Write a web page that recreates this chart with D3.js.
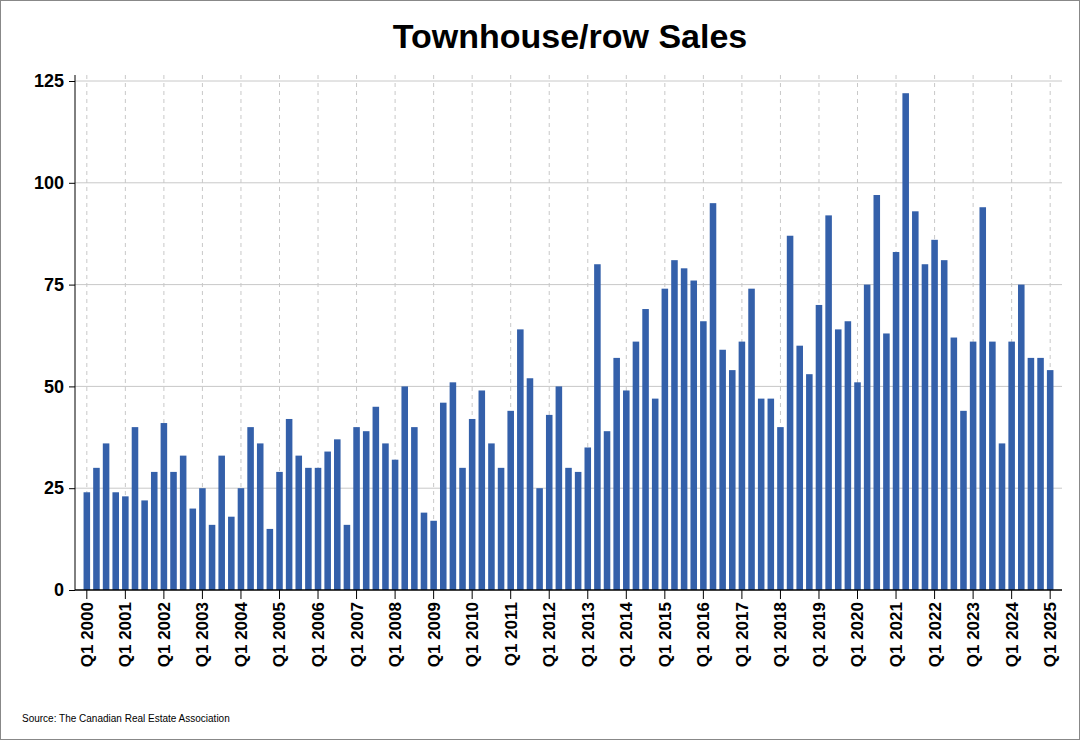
<!DOCTYPE html><html><head><meta charset="utf-8"><script src="https://d3js.org/d3.v7.min.js"></script>
<style>body{margin:0;background:#fff}text{font-family:Arial,"Liberation Sans",sans-serif}</style></head><body><svg id="c" width="1080" height="740"></svg><script>
const years=d3.range(2000,2026);
const quarters=["Q1","Q2","Q3","Q4"];
const values=[24,30,36,24, 23,40,22,29, 41,29,33,20, 25,16,33,18, 25,40,36,15, 29,42,33,30, 30,34,37,16, 40,39,45,36, 32,50,40,19, 17,46,51,30, 42,49,36,30, 44,64,52,25, 43,50,30,29, 35,80,39,57, 49,61,69,47, 74,81,79,76, 66,95,59,54, 61,74,47,47, 40,87,60,53, 70,92,64,66, 51,75,97,63, 83,122,93,80, 86,81,62,44, 61,94,61,36, 61,75,57,57, 54];
const yTicks=[0,25,50,75,100,125];
const labels=[];years.forEach(y=>quarters.forEach(q=>labels.push(q+" "+y)));
const cats=labels.slice(0,values.length);
const svg=d3.select("#c");
svg.append("rect").attr("x",0.5).attr("y",0.5).attr("width",1079).attr("height",739).attr("fill","#fff").attr("stroke","#888");
const x=d3.scaleBand().domain(cats).range([82,1055]).paddingInner(0.32).paddingOuter(0.16);
const y=d3.scaleLinear().domain([0,125]).range([590,81]);
// gridlines
svg.append("g").selectAll("line").data(yTicks.slice(1)).join("line").attr("x1",75).attr("x2",1062).attr("y1",d=>y(d)).attr("y2",d=>y(d)).attr("stroke","#c8c8c8");
const q1=cats.filter(c=>c.startsWith("Q1"));
svg.append("g").selectAll("line").data(q1).join("line").attr("x1",d=>x(d)+x.bandwidth()/2).attr("x2",d=>x(d)+x.bandwidth()/2).attr("y1",75).attr("y2",590).attr("stroke","#c8c8c8").attr("stroke-dasharray","4,4");
svg.append("g").selectAll("rect").data(values).join("rect").attr("x",(d,i)=>x(cats[i])).attr("width",x.bandwidth()).attr("y",d=>y(d)).attr("height",d=>590-y(d)).attr("fill","#3460aa");
// y axis
const ya=svg.append("g").attr("transform","translate(75,0)").call(d3.axisLeft(y).tickValues(yTicks).tickSize(6));
ya.select(".domain").attr("d","M0,75V590").attr("stroke","#000");
ya.selectAll("text").attr("font-size",18).attr("font-weight","bold").attr("fill","#000").attr("dx","-2");
// x axis
const xa=svg.append("g").attr("transform","translate(0,590)").call(d3.axisBottom(x).tickValues(q1).tickSize(9));
xa.select(".domain").attr("d","M75,0H1062").attr("stroke","#000").attr("stroke-width",1.5);
xa.selectAll("text").attr("font-size",17).attr("font-weight","bold").attr("fill","#000").attr("transform","rotate(-90)").attr("text-anchor","end").attr("x",-12).attr("y",0).attr("dy","0.35em");
svg.append("text").attr("x",570).attr("y",48).attr("text-anchor","middle").attr("font-size",34).attr("font-weight","bold").text("Townhouse/row Sales");
svg.append("text").attr("x",22).attr("y",722).attr("font-size",10).text("Source: The Canadian Real Estate Association");
</script></body></html>
